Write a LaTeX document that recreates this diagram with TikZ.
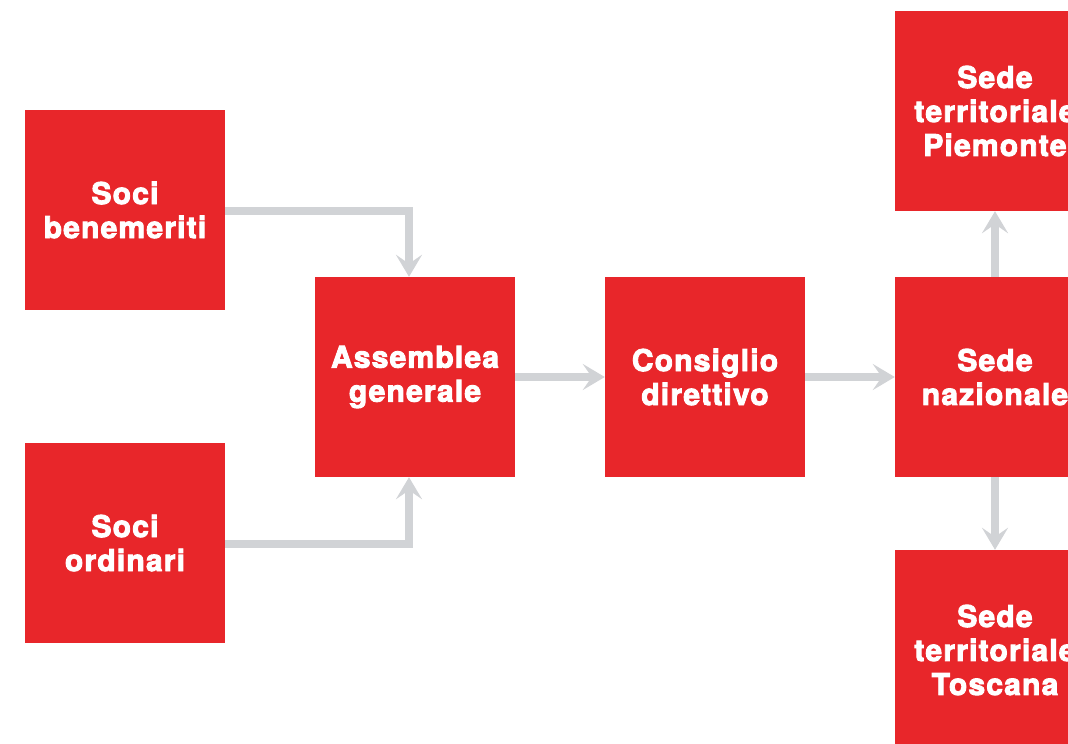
\documentclass[tikz,border=0pt]{standalone}
\usepackage{fontspec}
\usetikzlibrary{arrows.meta}
\newfontfamily\boxfont{texgyreheros-bold.otf}[FakeBold=3,LetterSpace=4]
\definecolor{boxred}{HTML}{E8262A}
\definecolor{linkgray}{HTML}{D1D3D6}

\begin{document}
\begin{tikzpicture}[
    x=1pt, y=-1pt,
    box/.style={fill=boxred, text=white, minimum size=200pt, inner sep=0pt,
        align=center, font=\boxfont\fontsize{30}{34}\selectfont},
    link/.style={draw=linkgray, line width=8pt,
        -{Stealth[length=22pt,width=26pt,inset=9pt]}}
    ]
    \useasboundingbox (0,0) rectangle (1068,744);

    % members
    \node[box] (benemeriti) at (125,210) {Soci\\benemeriti};
    \node[box] (ordinari) at (125,543) {Soci\\ordinari};
    % central bodies
    \node[box] (assemblea) at (415,377) {Assemblea\\generale};
    \node[box] (consiglio) at (705,377) {Consiglio\\direttivo};
    \node[box] (nazionale) at (995,377) {Sede\\nazionale};
    % local seats
    \node[box] (piemonte) at (995,111) {Sede\\territoriale\\Piemonte};
    \node[box] (toscana) at (995,650) {Sede\\territoriale\\Toscana};

    % bends
    \coordinate (bendtop) at (409,211);
    \coordinate (bendbot) at (409,544);

    % links
    \draw[link] (benemeriti.east |- bendtop) -- (bendtop) -- (bendtop |- assemblea.north);
    \draw[link] (ordinari.east |- bendbot) -- (bendbot) -- (bendbot |- assemblea.south);
    \draw[link] (assemblea) -- (consiglio);
    \draw[link] (consiglio) -- (nazionale);
    \draw[link] (nazionale) -- (piemonte);
    \draw[link] (nazionale) -- (toscana);

\end{tikzpicture}
\end{document}
